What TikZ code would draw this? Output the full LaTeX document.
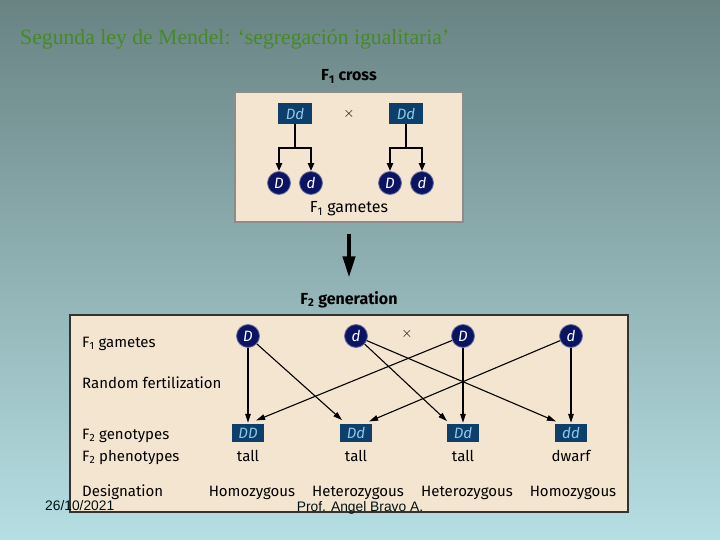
\documentclass[tikz,border=0pt]{standalone}
\usepackage{fontspec}
\setmainfont{Liberation Serif}
\setsansfont{Fira Sans}
\newfontfamily\footfont{Liberation Sans}
\usetikzlibrary{arrows.meta,positioning}
\definecolor{bgtop}{HTML}{698383}
\definecolor{bgbot}{HTML}{B6DFE3}
\definecolor{panel}{HTML}{F4E5D0}
\definecolor{genofill}{HTML}{0E3E6A}
\definecolor{genotext}{HTML}{8CC8EE}
\definecolor{gamfill}{HTML}{0B1462}
\definecolor{titlegreen}{HTML}{468A27}
\tikzset{
  panelbox/.style={draw=#1, fill=panel, line width=1.2pt, inner sep=0pt},
  geno/.style={rectangle, fill=genofill, text=genotext, font=\sffamily\itshape\fontsize{15}{15}\selectfont, minimum width=34pt, minimum height=21pt, inner sep=0pt},
  gam/.style={circle, fill=gamfill, draw=gamfill!60!white, line width=0.8pt, text=white, font=\sffamily\itshape\fontsize{15}{15}\selectfont, minimum size=23pt, inner sep=0pt},
  head/.style={anchor=base, font=\sffamily\bfseries\fontsize{16}{18}\selectfont},
  rowlbl/.style={anchor=base west, inner sep=0pt, font=\sffamily\fontsize{15}{17}\selectfont},
  cell/.style={anchor=base, font=\sffamily\fontsize{15}{17}\selectfont},
  crossmark/.style={font=\fontsize{14}{14}\selectfont},
  fork/.style={line width=2pt, -{Triangle[length=8pt,width=6pt]}},
  fert/.style={line width=1.1pt, -{Triangle[length=9pt,width=5.5pt]}, shorten >=1pt},
  bigarrow/.style={line width=4pt, -{Triangle[length=21pt,width=12pt]}},
  foot/.style={font=\footfont\fontsize{13.8}{14}\selectfont, text=black!85!teal}
}
\newcommand{\Fsub}[1]{F\textsubscript{#1}}

\begin{document}
\begin{tikzpicture}[x=1pt, y=-1pt]
\shade[top color=bgtop, bottom color=bgbot] (0,0) rectangle (720,540);
\useasboundingbox (0,0) rectangle (720,540);
\node[anchor=base west, inner sep=0pt, text=titlegreen, font=\fontsize{21.7}{24}\selectfont] (title) at (20,45) {Segunda ley de Mendel: ‘segregación igualitaria’};

% F1 cross
\node[head] (h1) at (349,81) {\Fsub{1} cross};
\node[panelbox=black!45, minimum width=228pt, minimum height=130pt] (top) at (349,157) {};
\node[geno] (p1) at (295,113.5) {Dd};
\node[geno] (p2) at (406,113.5) {Dd};
\node[crossmark] (x1) at (349,114) {$\times$};
\node[gam] (g1) at (279,183) {D};
\node[gam] (g2) at (311,183) {d};
\node[gam] (g3) at (390,183) {D};
\node[gam] (g4) at (422,183) {d};
\node[head, font=\sffamily\fontsize{16}{18}\selectfont] (h1g) at (349,213) {\Fsub{1} gametes};
\foreach \p/\a/\b in {p1/g1/g2, p2/g3/g4}{
  \draw[line width=2pt] (\p.south) -- ++(0,24) coordinate (k\p);
  \draw[fork] (k\p) -| (\a.north);
  \draw[fork] (k\p) -| (\b.north);
}

% F2 generation
\node[head] (h2) at (349,304) {\Fsub{2} generation};
\draw[bigarrow] ([yshift=-11pt]top.south) -- ([yshift=10pt]h2.north);
\node[panelbox=black!80, minimum width=558pt, minimum height=197pt] (bot) at (349,413.5) {};
\node[rowlbl] (l1) at (82,347) {\Fsub{1} gametes};
\node[rowlbl] (l2) at (82,388) {Random fertilization};
\node[rowlbl] (l3) at (82,439) {\Fsub{2} genotypes};
\node[rowlbl] (l4) at (82,461) {\Fsub{2} phenotypes};
\node[rowlbl] (l5) at (82,496) {Designation};
\node[gam] (G1) at (248,336) {D};
\node[gam] (G2) at (356,336) {d};
\node[crossmark] (x2) at (407,334) {$\times$};
\node[gam] (G3) at (463,336) {D};
\node[gam] (G4) at (571,336) {d};
\node[geno, minimum width=32pt, minimum height=18pt] (Z1) at (248,433) {DD};
\node[geno, minimum width=32pt, minimum height=18pt] (Z2) at (356,433) {Dd};
\node[geno, minimum width=32pt, minimum height=18pt] (Z3) at (463,433) {Dd};
\node[geno, minimum width=32pt, minimum height=18pt] (Z4) at (571,433) {dd};
\foreach \z/\t/\d/\x in {Z1/tall/Homozygous/252, Z2/tall/Heterozygous/358, Z3/tall/Heterozygous/467, Z4/dwarf/Homozygous/573}{
  \node[cell] (t\z) at (\z |- 0,461) {\t};
  \node[cell] (d\z) at (\x,496) {\d};
}
\draw[fert] (G1) -- (Z1);
\draw[fert] (G3) -- (Z3);
\draw[fert] (G4) -- (Z4);
\draw[fert] (G1) -- ([xshift=3pt,yshift=3pt]Z2.north west);
\draw[fert] (G2) -- ([xshift=1pt,yshift=2pt]Z3.north west);
\draw[fert] (G2) -- ([xshift=2pt,yshift=2pt]Z4.north west);
\draw[fert] (G3) -- ([xshift=-9pt,yshift=3pt]Z1.north east);
\draw[fert] (G4) -- ([xshift=-4pt,yshift=2pt]Z2.north east);

% footer
\node[foot, anchor=base west, inner sep=0pt] (date) at (45,510) {26/10/2021};
\node[foot, anchor=base, inner sep=0pt] (prof) at (360,511) {Prof. Angel Bravo A.};
\end{tikzpicture}
\end{document}
